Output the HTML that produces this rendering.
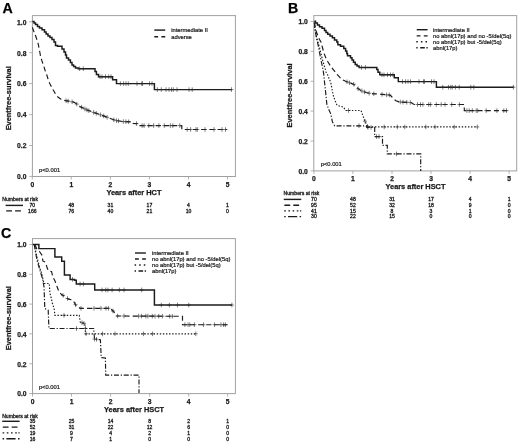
<!DOCTYPE html>
<html><head><meta charset="utf-8"><title>Eventfree survival</title>
<style>
html,body{margin:0;padding:0;background:#fff;}
svg{display:block;}
text{font-family:"Liberation Sans",sans-serif;fill:#1a1a1a;}
.tk{font-size:6.7px;font-weight:bold;stroke:#1a1a1a;stroke-width:0.25px;}
.ax{font-size:7.4px;font-weight:bold;stroke:#1a1a1a;stroke-width:0.25px;}
.pv{font-size:5.8px;stroke:#1a1a1a;stroke-width:0.2px;}
.pl{font-size:14.2px;font-weight:bold;fill:#000;stroke:#000;stroke-width:0.25px;}
.lg{font-size:5.8px;stroke:#1a1a1a;stroke-width:0.22px;}
.rk{font-size:5.1px;stroke:#1a1a1a;stroke-width:0.3px;}
</style></head>
<body>
<svg width="520" height="445" viewBox="0 0 520 445">
<defs><filter id="bl" x="0" y="0" width="100%" height="100%" filterUnits="userSpaceOnUse"><feGaussianBlur stdDeviation="0.35"/></filter></defs>
<rect width="520" height="445" fill="#fff"/>
<g filter="url(#bl)">
<rect x="32.4" y="15.6" width="203.0" height="160.9" fill="none" stroke="#a0a0a0" stroke-width="1"/>
<path d="M29.2,176.4H32.4" stroke="#a0a0a0" stroke-width="0.8"/>
<text x="26.4" y="179.2" text-anchor="end" class="tk">0.0</text>
<path d="M29.2,145.5H32.4" stroke="#a0a0a0" stroke-width="0.8"/>
<text x="26.4" y="148.3" text-anchor="end" class="tk">0.2</text>
<path d="M29.2,114.6H32.4" stroke="#a0a0a0" stroke-width="0.8"/>
<text x="26.4" y="117.4" text-anchor="end" class="tk">0.4</text>
<path d="M29.2,83.6H32.4" stroke="#a0a0a0" stroke-width="0.8"/>
<text x="26.4" y="86.4" text-anchor="end" class="tk">0.6</text>
<path d="M29.2,52.7H32.4" stroke="#a0a0a0" stroke-width="0.8"/>
<text x="26.4" y="55.5" text-anchor="end" class="tk">0.8</text>
<path d="M29.2,21.8H32.4" stroke="#a0a0a0" stroke-width="0.8"/>
<text x="26.4" y="24.6" text-anchor="end" class="tk">1.0</text>
<path d="M32.3,176.5V179.5" stroke="#a0a0a0" stroke-width="0.8"/>
<text x="32.3" y="186.9" text-anchor="middle" class="tk">0</text>
<path d="M71.3,176.5V179.5" stroke="#a0a0a0" stroke-width="0.8"/>
<text x="71.3" y="186.9" text-anchor="middle" class="tk">1</text>
<path d="M110.4,176.5V179.5" stroke="#a0a0a0" stroke-width="0.8"/>
<text x="110.4" y="186.9" text-anchor="middle" class="tk">2</text>
<path d="M149.4,176.5V179.5" stroke="#a0a0a0" stroke-width="0.8"/>
<text x="149.4" y="186.9" text-anchor="middle" class="tk">3</text>
<path d="M188.5,176.5V179.5" stroke="#a0a0a0" stroke-width="0.8"/>
<text x="188.5" y="186.9" text-anchor="middle" class="tk">4</text>
<path d="M227.5,176.5V179.5" stroke="#a0a0a0" stroke-width="0.8"/>
<text x="227.5" y="186.9" text-anchor="middle" class="tk">5</text>
<text x="133.9" y="194.7" text-anchor="middle" class="ax">Years after HCT</text>
<text transform="translate(10.8,98.3) rotate(-90)" text-anchor="middle" class="ax">Eventfree-survival</text>
<text x="39.0" y="171.5" class="pv">p&lt;0.001</text>
<text x="2.4" y="13.4" class="pl">A</text>
<path d="M32.4,21.5 L34.0,21.5 L34.0,23.0 L35.5,23.0 L35.5,24.5 L37.5,24.5 L37.5,26.5 L39.5,26.5 L39.5,28.0 L42.0,28.0 L42.0,29.7 L44.5,29.7 L44.5,32.0 L46.1,32.0 L46.1,34.0 L48.0,34.0 L48.0,36.0 L50.0,36.0 L50.0,37.5 L52.0,37.5 L52.0,39.5 L54.0,39.5 L54.0,42.0 L55.5,42.0 L55.5,45.4 L57.5,45.4 L57.5,46.2 L62.0,46.2 L62.0,49.0 L64.0,49.0 L64.0,52.0 L65.5,52.0 L65.5,55.0 L66.5,55.0 L66.5,58.0 L68.5,58.0 L68.5,60.0 L70.4,60.0 L70.4,62.5 L72.0,62.5 L72.0,65.0 L73.6,65.0 L73.6,66.5 L75.5,66.5 L75.5,68.0 L78.3,68.0 L78.3,68.7 L95.0,68.7 L95.0,71.5 L96.4,71.5 L96.4,74.5 L98.5,74.5 L98.5,76.7 L112.6,76.7 L112.6,79.7 L116.5,79.7 L116.5,83.6 L154.4,83.6 L154.4,89.6 L231.5,89.6" fill="none" stroke="#1a1a1a" stroke-width="1.45" stroke-linejoin="miter"/>
<path d="M79.6,66.4V71.0M77.6,68.7H81.6M83.3,66.4V71.0M81.3,68.7H85.3" stroke="#2a2a2a" stroke-width="0.6" fill="none"/>
<path d="M100.0,74.4V79.0M98.0,76.7H102.0M102.0,74.4V79.0M100.0,76.7H104.0M105.5,74.4V79.0M103.5,76.7H107.5M108.7,74.4V79.0M106.7,76.7H110.7M111.0,74.4V79.0M109.0,76.7H113.0" stroke="#2a2a2a" stroke-width="0.6" fill="none"/>
<path d="M120.4,81.3V85.9M118.4,83.6H122.4M123.6,81.3V85.9M121.6,83.6H125.6M126.0,81.3V85.9M124.0,83.6H128.0M128.3,81.3V85.9M126.3,83.6H130.3M137.0,81.3V85.9M135.0,83.6H139.0M141.7,81.3V85.9M139.7,83.6H143.7M142.5,81.3V85.9M140.5,83.6H144.5M149.5,81.3V85.9M147.5,83.6H151.5M152.0,81.3V85.9M150.0,83.6H154.0" stroke="#2a2a2a" stroke-width="0.6" fill="none"/>
<path d="M157.4,87.3V91.9M155.4,89.6H159.4M161.3,87.3V91.9M159.3,89.6H163.3M166.0,87.3V91.9M164.0,89.6H168.0M169.0,87.3V91.9M167.0,89.6H171.0M171.5,87.3V91.9M169.5,89.6H173.5M173.3,87.3V91.9M171.3,89.6H175.3M177.0,87.3V91.9M175.0,89.6H179.0" stroke="#2a2a2a" stroke-width="0.6" fill="none"/>
<path d="M189.0,87.3V91.9M187.0,89.6H191.0M192.2,87.3V91.9M190.2,89.6H194.2M231.5,87.3V91.9M229.5,89.6H233.5" stroke="#2a2a2a" stroke-width="0.6" fill="none"/>
<path d="M32.4,27.4 L33.3,30.0 L34.2,32.5 L35.0,34.4 L36.0,37.0 L37.0,40.0 L38.2,43.9 L39.0,48.0 L39.8,52.0 L40.6,56.5 L42.0,61.0 L43.7,65.9 L45.3,71.0 L46.9,75.3 L48.4,80.4 L50.0,84.0 L53.2,89.9 L55.5,94.0 L57.9,97.0 L61.0,99.2 L65.7,100.6 L73.6,102.1 L76.0,103.5 L79.9,106.4 L84.0,108.5 L87.7,110.3 L95.6,113.1 L100.0,114.6 L107.9,117.6 L115.7,120.5 L123.0,121.6 L132.7,121.9 L133.2,123.5 L138.5,123.6 L139.2,125.6 L181.8,125.6 L181.8,129.5 L227.0,129.5" fill="none" stroke="#1a1a1a" stroke-width="1.15" stroke-dasharray="5 3.2" stroke-linejoin="miter"/>
<path d="M66.1,98.4V103.0M64.1,100.7H68.1M68.1,98.8V103.4M66.1,101.1H70.1M72.1,99.5V104.1M70.1,101.8H74.1M76.8,101.8V106.4M74.8,104.1H78.8M81.5,104.9V109.5M79.5,107.2H83.5M84.9,106.6V111.2M82.9,108.9H86.9M86.9,107.6V112.2M84.9,109.9H88.9M88.9,108.4V113.0M86.9,110.7H90.9M93.6,110.1V114.7M91.6,112.4H95.6M96.3,111.0V115.6M94.3,113.3H98.3M100.4,112.5V117.1M98.4,114.8H102.4M103.7,113.7V118.3M101.7,116.0H105.7M107.1,115.0V119.6M105.1,117.3H109.1M113.8,117.5V122.1M111.8,119.8H115.8M116.5,118.3V122.9M114.5,120.6H118.5M118.5,118.6V123.2M116.5,120.9H120.5M123.3,119.3V123.9M121.3,121.6H125.3M125.9,119.4V124.0M123.9,121.7H127.9M128.6,119.5V124.1M126.6,121.8H130.6" stroke="#2a2a2a" stroke-width="0.6" fill="none"/>
<path d="M136.5,121.3V125.9M134.5,123.6H138.5M142.1,123.3V127.9M140.1,125.6H144.1M144.1,123.3V127.9M142.1,125.6H146.1M148.8,123.3V127.9M146.8,125.6H150.8M153.6,123.3V127.9M151.6,125.6H155.6M158.9,123.3V127.9M156.9,125.6H160.9M164.3,123.3V127.9M162.3,125.6H166.3M170.4,123.3V127.9M168.4,125.6H172.4M172.8,123.3V127.9M170.8,125.6H174.8M179.8,123.3V127.9M177.8,125.6H181.8" stroke="#2a2a2a" stroke-width="0.6" fill="none"/>
<path d="M187.2,127.2V131.8M185.2,129.5H189.2M190.6,127.2V131.8M188.6,129.5H192.6M196.0,127.2V131.8M194.0,129.5H198.0M197.3,127.2V131.8M195.3,129.5H199.3M205.0,127.2V131.8M203.0,129.5H207.0M214.0,127.2V131.8M212.0,129.5H216.0M222.0,127.2V131.8M220.0,129.5H224.0M225.5,127.2V131.8M223.5,129.5H227.5" stroke="#2a2a2a" stroke-width="0.6" fill="none"/>
<path d="M154.3,30.1H165.2" stroke="#1a1a1a" stroke-width="1.4" fill="none"/>
<text x="171.2" y="32.1" class="lg">intermediate II</text>
<path d="M154.3,36.7H158.1M161.4,36.7H165.2" stroke="#1a1a1a" stroke-width="1.4" fill="none"/>
<text x="171.2" y="38.7" class="lg">adverse</text>
<text x="2.3" y="201.0" class="rk">Numbers at risk</text>
<path d="M5.6,205.4H23.0" stroke="#1a1a1a" stroke-width="1.4" fill="none"/>
<text x="32.3" y="207.2" text-anchor="middle" class="rk">70</text>
<text x="71.3" y="207.2" text-anchor="middle" class="rk">48</text>
<text x="110.4" y="207.2" text-anchor="middle" class="rk">31</text>
<text x="149.4" y="207.2" text-anchor="middle" class="rk">17</text>
<text x="188.5" y="207.2" text-anchor="middle" class="rk">4</text>
<text x="227.5" y="207.2" text-anchor="middle" class="rk">1</text>
<path d="M6.2,210.9H12.0M15.1,210.9H20.9" stroke="#1a1a1a" stroke-width="1.4" fill="none"/>
<text x="32.3" y="212.7" text-anchor="middle" class="rk">166</text>
<text x="71.3" y="212.7" text-anchor="middle" class="rk">76</text>
<text x="110.4" y="212.7" text-anchor="middle" class="rk">40</text>
<text x="149.4" y="212.7" text-anchor="middle" class="rk">21</text>
<text x="188.5" y="212.7" text-anchor="middle" class="rk">10</text>
<text x="227.5" y="212.7" text-anchor="middle" class="rk">0</text>
<rect x="313.8" y="15.6" width="202.90000000000003" height="155.3" fill="none" stroke="#a0a0a0" stroke-width="1"/>
<path d="M310.6,170.9H313.8" stroke="#a0a0a0" stroke-width="0.8"/>
<text x="307.8" y="173.7" text-anchor="end" class="tk">0.0</text>
<path d="M310.6,141.0H313.8" stroke="#a0a0a0" stroke-width="0.8"/>
<text x="307.8" y="143.8" text-anchor="end" class="tk">0.2</text>
<path d="M310.6,111.1H313.8" stroke="#a0a0a0" stroke-width="0.8"/>
<text x="307.8" y="113.9" text-anchor="end" class="tk">0.4</text>
<path d="M310.6,81.3H313.8" stroke="#a0a0a0" stroke-width="0.8"/>
<text x="307.8" y="84.1" text-anchor="end" class="tk">0.6</text>
<path d="M310.6,51.4H313.8" stroke="#a0a0a0" stroke-width="0.8"/>
<text x="307.8" y="54.2" text-anchor="end" class="tk">0.8</text>
<path d="M310.6,21.5H313.8" stroke="#a0a0a0" stroke-width="0.8"/>
<text x="307.8" y="24.3" text-anchor="end" class="tk">1.0</text>
<path d="M313.9,170.9V173.9" stroke="#a0a0a0" stroke-width="0.8"/>
<text x="313.9" y="181.3" text-anchor="middle" class="tk">0</text>
<path d="M352.9,170.9V173.9" stroke="#a0a0a0" stroke-width="0.8"/>
<text x="352.9" y="181.3" text-anchor="middle" class="tk">1</text>
<path d="M392.0,170.9V173.9" stroke="#a0a0a0" stroke-width="0.8"/>
<text x="392.0" y="181.3" text-anchor="middle" class="tk">2</text>
<path d="M431.0,170.9V173.9" stroke="#a0a0a0" stroke-width="0.8"/>
<text x="431.0" y="181.3" text-anchor="middle" class="tk">3</text>
<path d="M470.1,170.9V173.9" stroke="#a0a0a0" stroke-width="0.8"/>
<text x="470.1" y="181.3" text-anchor="middle" class="tk">4</text>
<path d="M509.1,170.9V173.9" stroke="#a0a0a0" stroke-width="0.8"/>
<text x="509.1" y="181.3" text-anchor="middle" class="tk">5</text>
<text x="415.5" y="189.1" text-anchor="middle" class="ax">Years after HSCT</text>
<text transform="translate(292.3,95.4) rotate(-90)" text-anchor="middle" class="ax">Eventfree-survival</text>
<text x="320.7" y="166.3" class="pv">p&lt;0.001</text>
<text x="288.0" y="13.1" class="pl">B</text>
<path d="M314.3,21.3 L315.5,21.3 L315.5,23.0 L317.4,23.0 L317.4,25.0 L319.5,25.0 L319.5,26.8 L322.0,26.8 L322.0,28.2 L324.5,28.2 L324.5,30.5 L326.0,30.5 L326.0,32.5 L327.7,32.5 L327.7,34.3 L330.0,34.3 L330.0,36.0 L332.4,36.0 L332.4,37.8 L334.5,37.8 L334.5,39.9 L336.8,39.9 L336.8,42.0 L337.9,42.0 L337.9,44.7 L340.5,44.7 L340.5,46.2 L343.8,46.2 L343.8,48.5 L345.6,48.5 L345.6,51.0 L346.8,51.0 L346.8,53.5 L347.5,53.5 L347.5,55.7 L350.5,55.7 L350.5,57.8 L352.0,57.8 L352.0,60.0 L353.5,60.0 L353.5,62.3 L355.2,62.3 L355.2,64.5 L357.0,64.5 L357.0,66.0 L359.1,66.0 L359.1,67.5 L376.8,67.5 L376.8,69.5 L378.0,69.5 L378.0,72.3 L379.8,72.3 L379.8,74.8 L394.3,74.8 L394.3,77.8 L398.3,77.8 L398.3,81.6 L436.4,81.6 L436.4,87.2 L513.4,87.2" fill="none" stroke="#1a1a1a" stroke-width="1.45" stroke-linejoin="miter"/>
<path d="M361.5,65.2V69.8M359.5,67.5H363.5M365.4,65.2V69.8M363.4,67.5H367.4" stroke="#2a2a2a" stroke-width="0.6" fill="none"/>
<path d="M382.0,72.5V77.1M380.0,74.8H384.0M384.0,72.5V77.1M382.0,74.8H386.0M387.5,72.5V77.1M385.5,74.8H389.5M390.5,72.5V77.1M388.5,74.8H392.5M393.0,72.5V77.1M391.0,74.8H395.0" stroke="#2a2a2a" stroke-width="0.6" fill="none"/>
<path d="M402.5,79.3V83.9M400.5,81.6H404.5M405.5,79.3V83.9M403.5,81.6H407.5M408.0,79.3V83.9M406.0,81.6H410.0M410.5,79.3V83.9M408.5,81.6H412.5M419.0,79.3V83.9M417.0,81.6H421.0M423.5,79.3V83.9M421.5,81.6H425.5M424.5,79.3V83.9M422.5,81.6H426.5M431.5,79.3V83.9M429.5,81.6H433.5M434.0,79.3V83.9M432.0,81.6H436.0" stroke="#2a2a2a" stroke-width="0.6" fill="none"/>
<path d="M442.8,84.9V89.5M440.8,87.2H444.8M448.5,84.9V89.5M446.5,87.2H450.5M450.8,84.9V89.5M448.8,87.2H452.8M452.3,84.9V89.5M450.3,87.2H454.3M455.4,84.9V89.5M453.4,87.2H457.4M459.2,84.9V89.5M457.2,87.2H461.2" stroke="#2a2a2a" stroke-width="0.6" fill="none"/>
<path d="M470.8,84.9V89.5M468.8,87.2H472.8M473.8,84.9V89.5M471.8,87.2H475.8M513.4,84.9V89.5M511.4,87.2H515.4" stroke="#2a2a2a" stroke-width="0.6" fill="none"/>
<path d="M314.3,22.5 L315.0,26.0 L315.6,29.5 L316.8,33.0 L318.1,36.6 L319.5,39.5 L321.0,42.0 L322.2,46.5 L323.5,51.4 L324.7,55.0 L325.9,58.1 L328.0,62.0 L330.2,65.5 L332.5,68.7 L334.9,71.6 L337.0,74.5 L339.4,76.9 L342.0,79.5 L345.7,81.3 L350.0,83.0 L353.6,84.2 L356.0,86.5 L358.3,88.9 L362.2,91.2 L366.0,92.5 L370.9,93.6 L381.9,94.4 L390.0,95.1 L391.5,96.5 L393.5,98.8 L396.0,100.8 L399.4,102.0 L411.0,102.5 L412.5,103.5 L414.2,104.5 L464.3,104.5 L464.3,110.6 L507.6,110.6" fill="none" stroke="#1a1a1a" stroke-width="1.15" stroke-dasharray="5 3.2" stroke-linejoin="miter"/>
<path d="M347.0,79.5V84.1M345.0,81.8H349.0M349.5,80.5V85.1M347.5,82.8H351.5M353.7,82.0V86.6M351.7,84.3H355.7" stroke="#2a2a2a" stroke-width="0.6" fill="none"/>
<path d="M358.2,86.5V91.1M356.2,88.8H360.2M361.9,88.7V93.3M359.9,91.0H363.9M364.6,89.7V94.3M362.6,92.0H366.6M369.2,90.9V95.5M367.2,93.2H371.2M373.8,91.5V96.1M371.8,93.8H375.8M382.0,92.1V96.7M380.0,94.4H384.0M386.6,92.5V97.1M384.6,94.8H388.6M389.3,92.7V97.3M387.3,95.0H391.3" stroke="#2a2a2a" stroke-width="0.6" fill="none"/>
<path d="M400.3,99.7V104.3M398.3,102.0H402.3M403.0,99.9V104.5M401.0,102.2H405.0M406.7,100.0V104.6M404.7,102.3H408.7M410.3,100.2V104.8M408.3,102.5H412.3" stroke="#2a2a2a" stroke-width="0.6" fill="none"/>
<path d="M417.5,102.2V106.8M415.5,104.5H419.5M420.5,102.2V106.8M418.5,104.5H422.5M422.9,102.2V106.8M420.9,104.5H424.9M428.7,102.2V106.8M426.7,104.5H430.7M430.6,102.2V106.8M428.6,104.5H432.6M436.3,102.2V106.8M434.3,104.5H438.3M441.2,102.2V106.8M439.2,104.5H443.2M445.0,102.2V106.8M443.0,104.5H447.0M451.7,102.2V106.8M449.7,104.5H453.7M459.4,102.2V106.8M457.4,104.5H461.4" stroke="#2a2a2a" stroke-width="0.6" fill="none"/>
<path d="M466.9,108.3V112.9M464.9,110.6H468.9M469.2,108.3V112.9M467.2,110.6H471.2M472.3,108.3V112.9M470.3,110.6H474.3M476.2,108.3V112.9M474.2,110.6H478.2M477.7,108.3V112.9M475.7,110.6H479.7M486.2,108.3V112.9M484.2,110.6H488.2M496.9,108.3V112.9M494.9,110.6H498.9M503.8,108.3V112.9M501.8,110.6H505.8M506.5,108.3V112.9M504.5,110.6H508.5" stroke="#2a2a2a" stroke-width="0.6" fill="none"/>
<path d="M314.3,26.6 L315.4,32.0 L316.6,37.6 L318.2,43.0 L319.8,48.6 L321.3,55.0 L322.9,61.2 L324.5,66.5 L326.1,72.2 L327.7,75.0 L328.4,76.9 L330.8,82.6 L332.0,89.0 L333.2,95.2 L335.0,100.5 L337.1,105.4 L343.4,107.0 L345.7,110.5 L361.0,110.5 L364.6,120.3 L367.7,126.9 L477.3,126.9" fill="none" stroke="#1a1a1a" stroke-width="1.15" stroke-dasharray="1.4 1.7" stroke-linejoin="miter"/>
<path d="M348.5,108.2V112.8M346.5,110.5H350.5" stroke="#2a2a2a" stroke-width="0.6" fill="none"/>
<path d="M365.0,118.9V123.5M363.0,121.2H367.0M367.5,124.2V128.8M365.5,126.5H369.5" stroke="#2a2a2a" stroke-width="0.6" fill="none"/>
<path d="M384.2,124.6V129.2M382.2,126.9H386.2M397.3,124.6V129.2M395.3,126.9H399.3M404.8,124.6V129.2M402.8,126.9H406.8M425.8,124.6V129.2M423.8,126.9H427.8M435.0,124.6V129.2M433.0,126.9H437.0M454.2,124.6V129.2M452.2,126.9H456.2M477.3,124.6V129.2M475.3,126.9H479.3" stroke="#2a2a2a" stroke-width="0.6" fill="none"/>
<path d="M314.3,22.5 L315.1,28.0 L315.9,34.4 L317.0,40.0 L318.2,45.4 L319.4,52.0 L320.6,58.0 L321.7,63.5 L322.9,69.0 L323.7,74.0 L324.5,82.0 L325.3,88.9 L326.1,97.0 L326.9,104.6 L328.8,109.5 L330.8,114.0 L331.6,118.0 L332.4,121.9 L334.7,125.8 L366.8,125.8 L366.8,127.4 L374.7,127.4 L374.7,136.6 L382.5,136.6 L382.5,145.4 L387.3,145.4 L387.3,153.9 L420.7,153.9 L420.7,170.9" fill="none" stroke="#1a1a1a" stroke-width="1.15" stroke-dasharray="5 1.8 1.2 1.8" stroke-linejoin="miter"/>
<path d="M359.0,123.5V128.1M357.0,125.8H361.0M368.0,125.1V129.7M366.0,127.4H370.0M371.0,125.1V129.7M369.0,127.4H373.0" stroke="#2a2a2a" stroke-width="0.6" fill="none"/>
<path d="M376.5,134.3V138.9M374.5,136.6H378.5M379.0,134.3V138.9M377.0,136.6H381.0" stroke="#2a2a2a" stroke-width="0.6" fill="none"/>
<path d="M396.5,151.6V156.2M394.5,153.9H398.5" stroke="#2a2a2a" stroke-width="0.6" fill="none"/>
<path d="M416.7,29.7H427.6" stroke="#1a1a1a" stroke-width="1.4" fill="none"/>
<text x="433" y="31.7" class="lg">intermediate II</text>
<path d="M416.7,35.9H420.5M423.8,35.9H427.6" stroke="#1a1a1a" stroke-width="1.4" fill="none"/>
<text x="433" y="37.9" class="lg">no abnl(17p) and no -5/del(5q)</text>
<path d="M416.3,41.8H417.8M420.9,41.8H422.4M425.5,41.8H427.0" stroke="#1a1a1a" stroke-width="1.4" fill="none"/>
<text x="433" y="43.8" class="lg">no abnl(17p) but -5/del(5q)</text>
<path d="M416.3,47.8H417.7M420.2,47.8H424.8M426.4,47.8H427.7" stroke="#1a1a1a" stroke-width="1.4" fill="none"/>
<text x="433" y="49.8" class="lg">abnl(17p)</text>
<text x="283.6" y="195.2" class="rk">Numbers at risk</text>
<path d="M283.8,199.4H301.2" stroke="#1a1a1a" stroke-width="1.4" fill="none"/>
<text x="313.9" y="201.2" text-anchor="middle" class="rk">70</text>
<text x="352.9" y="201.2" text-anchor="middle" class="rk">48</text>
<text x="392.0" y="201.2" text-anchor="middle" class="rk">31</text>
<text x="431.0" y="201.2" text-anchor="middle" class="rk">17</text>
<text x="470.1" y="201.2" text-anchor="middle" class="rk">4</text>
<text x="509.1" y="201.2" text-anchor="middle" class="rk">1</text>
<path d="M284.4,205.2H290.2M293.3,205.2H299.1" stroke="#1a1a1a" stroke-width="1.4" fill="none"/>
<text x="313.9" y="207.0" text-anchor="middle" class="rk">95</text>
<text x="352.9" y="207.0" text-anchor="middle" class="rk">52</text>
<text x="392.0" y="207.0" text-anchor="middle" class="rk">32</text>
<text x="431.0" y="207.0" text-anchor="middle" class="rk">18</text>
<text x="470.1" y="207.0" text-anchor="middle" class="rk">9</text>
<text x="509.1" y="207.0" text-anchor="middle" class="rk">0</text>
<path d="M284.2,210.9H285.8M288.4,210.9H290.0M292.6,210.9H294.2M296.8,210.9H298.4M300.0,210.9H301.2" stroke="#1a1a1a" stroke-width="1.4" fill="none"/>
<text x="313.9" y="212.7" text-anchor="middle" class="rk">41</text>
<text x="352.9" y="212.7" text-anchor="middle" class="rk">15</text>
<text x="392.0" y="212.7" text-anchor="middle" class="rk">8</text>
<text x="431.0" y="212.7" text-anchor="middle" class="rk">3</text>
<text x="470.1" y="212.7" text-anchor="middle" class="rk">1</text>
<text x="509.1" y="212.7" text-anchor="middle" class="rk">0</text>
<path d="M284.2,216.6H285.7M288.0,216.6H297.2M299.6,216.6H301.1" stroke="#1a1a1a" stroke-width="1.4" fill="none"/>
<text x="313.9" y="218.4" text-anchor="middle" class="rk">30</text>
<text x="352.9" y="218.4" text-anchor="middle" class="rk">22</text>
<text x="392.0" y="218.4" text-anchor="middle" class="rk">15</text>
<text x="431.0" y="218.4" text-anchor="middle" class="rk">0</text>
<text x="470.1" y="218.4" text-anchor="middle" class="rk">0</text>
<text x="509.1" y="218.4" text-anchor="middle" class="rk">0</text>
<rect x="32.5" y="238.6" width="202.9" height="155.00000000000003" fill="none" stroke="#a0a0a0" stroke-width="1"/>
<path d="M29.3,393.5H32.5" stroke="#a0a0a0" stroke-width="0.8"/>
<text x="26.5" y="396.3" text-anchor="end" class="tk">0.0</text>
<path d="M29.3,363.7H32.5" stroke="#a0a0a0" stroke-width="0.8"/>
<text x="26.5" y="366.5" text-anchor="end" class="tk">0.2</text>
<path d="M29.3,333.9H32.5" stroke="#a0a0a0" stroke-width="0.8"/>
<text x="26.5" y="336.7" text-anchor="end" class="tk">0.4</text>
<path d="M29.3,304.1H32.5" stroke="#a0a0a0" stroke-width="0.8"/>
<text x="26.5" y="306.9" text-anchor="end" class="tk">0.6</text>
<path d="M29.3,274.3H32.5" stroke="#a0a0a0" stroke-width="0.8"/>
<text x="26.5" y="277.1" text-anchor="end" class="tk">0.8</text>
<path d="M29.3,244.5H32.5" stroke="#a0a0a0" stroke-width="0.8"/>
<text x="26.5" y="247.3" text-anchor="end" class="tk">1.0</text>
<path d="M32.5,393.6V396.6" stroke="#a0a0a0" stroke-width="0.8"/>
<text x="32.5" y="404.0" text-anchor="middle" class="tk">0</text>
<path d="M71.5,393.6V396.6" stroke="#a0a0a0" stroke-width="0.8"/>
<text x="71.5" y="404.0" text-anchor="middle" class="tk">1</text>
<path d="M110.6,393.6V396.6" stroke="#a0a0a0" stroke-width="0.8"/>
<text x="110.6" y="404.0" text-anchor="middle" class="tk">2</text>
<path d="M149.6,393.6V396.6" stroke="#a0a0a0" stroke-width="0.8"/>
<text x="149.6" y="404.0" text-anchor="middle" class="tk">3</text>
<path d="M188.7,393.6V396.6" stroke="#a0a0a0" stroke-width="0.8"/>
<text x="188.7" y="404.0" text-anchor="middle" class="tk">4</text>
<path d="M227.7,393.6V396.6" stroke="#a0a0a0" stroke-width="0.8"/>
<text x="227.7" y="404.0" text-anchor="middle" class="tk">5</text>
<text x="134.1" y="411.8" text-anchor="middle" class="ax">Years after HSCT</text>
<text transform="translate(10.8,318.2) rotate(-90)" text-anchor="middle" class="ax">Eventfree-survival</text>
<text x="38.8" y="389.0" class="pv">p&lt;0.001</text>
<text x="0.9" y="238.2" class="pl">C</text>
<path d="M32.7,244.4 L38.9,244.4 L38.9,248.6 L54.9,248.6 L54.9,257.0 L61.7,257.0 L61.7,261.3 L64.4,261.3 L64.4,274.9 L70.1,274.9 L70.1,279.4 L74.5,279.4 L74.5,280.3 L76.3,280.3 L76.3,284.0 L94.7,284.0 L94.7,289.9 L154.4,289.9 L154.4,305.0 L231.9,305.0" fill="none" stroke="#1a1a1a" stroke-width="1.45" stroke-linejoin="miter"/>
<path d="M72.5,277.1V281.7M70.5,279.4H74.5" stroke="#2a2a2a" stroke-width="0.6" fill="none"/>
<path d="M80.1,281.7V286.3M78.1,284.0H82.1M83.4,281.7V286.3M81.4,284.0H85.4" stroke="#2a2a2a" stroke-width="0.6" fill="none"/>
<path d="M102.0,287.6V292.2M100.0,289.9H104.0M105.7,287.6V292.2M103.7,289.9H107.7M107.9,287.6V292.2M105.9,289.9H109.9M112.1,287.6V292.2M110.1,289.9H114.1M119.4,287.6V292.2M117.4,289.9H121.4M124.0,287.6V292.2M122.0,289.9H126.0M141.7,287.6V292.2M139.7,289.9H143.7" stroke="#2a2a2a" stroke-width="0.6" fill="none"/>
<path d="M161.3,302.7V307.3M159.3,305.0H163.3M169.4,302.7V307.3M167.4,305.0H171.4M177.5,302.7V307.3M175.5,305.0H179.5M188.8,302.7V307.3M186.8,305.0H190.8M231.9,302.7V307.3M229.9,305.0H233.9" stroke="#2a2a2a" stroke-width="0.6" fill="none"/>
<path d="M34.7,244.6 L36.8,248.8 L39.5,251.5 L42.2,255.5 L42.8,260.9 L45.5,262.3 L46.9,267.0 L48.2,270.5 L51.6,271.7 L52.9,277.1 L55.0,281.1 L57.0,286.5 L59.0,291.9 L61.7,294.6 L64.4,296.3 L68.4,299.1 L72.6,300.0 L74.3,302.5 L76.0,305.5 L80.2,308.3 L110.5,308.3 L112.5,310.5 L113.8,311.9 L117.1,316.0 L182.5,316.3 L182.5,324.7 L227.5,324.7" fill="none" stroke="#1a1a1a" stroke-width="1.15" stroke-dasharray="5 3.2" stroke-linejoin="miter"/>
<path d="M63.0,293.1V297.7M61.0,295.4H65.0M67.5,296.2V300.8M65.5,298.5H69.5" stroke="#2a2a2a" stroke-width="0.6" fill="none"/>
<path d="M75.5,302.3V306.9M73.5,304.6H77.5" stroke="#2a2a2a" stroke-width="0.6" fill="none"/>
<path d="M81.0,306.0V310.6M79.0,308.3H83.0M94.0,306.0V310.6M92.0,308.3H96.0M101.0,306.0V310.6M99.0,308.3H103.0M106.0,306.0V310.6M104.0,308.3H108.0M108.5,306.0V310.6M106.5,308.3H110.5" stroke="#2a2a2a" stroke-width="0.6" fill="none"/>
<path d="M113.0,308.7V313.3M111.0,311.0H115.0M117.6,313.7V318.3M115.6,316.0H119.6" stroke="#2a2a2a" stroke-width="0.6" fill="none"/>
<path d="M124.0,313.7V318.3M122.0,316.0H126.0M138.6,313.8V318.4M136.6,316.1H140.6M141.4,313.8V318.4M139.4,316.1H143.4M145.9,313.8V318.4M143.9,316.1H147.9M147.9,313.8V318.4M145.9,316.1H149.9M152.3,313.9V318.5M150.3,316.2H154.3M155.0,313.9V318.5M153.0,316.2H157.0M158.7,313.9V318.5M156.7,316.2H160.7M162.4,313.9V318.5M160.4,316.2H164.4M169.7,313.9V318.5M167.7,316.2H171.7M172.4,314.0V318.6M170.4,316.3H174.4" stroke="#2a2a2a" stroke-width="0.6" fill="none"/>
<path d="M184.9,322.4V327.0M182.9,324.7H186.9M188.0,322.4V327.0M186.0,324.7H190.0M189.8,322.4V327.0M187.8,324.7H191.8M194.4,322.4V327.0M192.4,324.7H196.4M203.5,322.4V327.0M201.5,324.7H205.5M214.5,322.4V327.0M212.5,324.7H216.5M220.9,322.4V327.0M218.9,324.7H222.9M223.6,322.4V327.0M221.6,324.7H225.6M225.4,322.4V327.0M223.4,324.7H227.4" stroke="#2a2a2a" stroke-width="0.6" fill="none"/>
<path d="M34.5,244.4 L35.4,249.5 L36.4,254.5 L37.6,259.5 L38.9,264.6 L40.2,269.0 L41.5,273.0 L42.7,278.0 L44.0,283.5 L49.3,283.5 L49.9,293.2 L51.2,298.0 L52.4,303.3 L54.1,308.5 L54.9,315.3 L79.3,315.3 L80.2,322.0 L84.8,323.7 L85.6,333.8 L195.8,333.8" fill="none" stroke="#1a1a1a" stroke-width="1.15" stroke-dasharray="1.4 1.7" stroke-linejoin="miter"/>
<path d="M64.0,313.0V317.6M62.0,315.3H66.0" stroke="#2a2a2a" stroke-width="0.6" fill="none"/>
<path d="M82.0,320.4V325.0M80.0,322.7H84.0M84.0,321.1V325.7M82.0,323.4H86.0" stroke="#2a2a2a" stroke-width="0.6" fill="none"/>
<path d="M86.0,331.5V336.1M84.0,333.8H88.0M102.5,331.5V336.1M100.5,333.8H104.5M115.0,331.5V336.1M113.0,333.8H117.0M143.5,331.5V336.1M141.5,333.8H145.5M152.5,331.5V336.1M150.5,333.8H154.5M195.8,331.5V336.1M193.8,333.8H197.8" stroke="#2a2a2a" stroke-width="0.6" fill="none"/>
<path d="M34.2,244.4 L35.0,249.0 L35.6,252.8 L37.3,261.3 L39.8,269.7 L42.3,278.1 L44.0,286.5 L44.4,297.0 L44.8,308.5 L48.2,310.2 L48.6,320.0 L49.0,328.5 L93.7,328.5 L94.5,339.0 L100.4,339.8 L101.2,357.6 L105.4,358.0 L105.7,375.1 L139.0,375.1 L139.0,393.1" fill="none" stroke="#1a1a1a" stroke-width="1.15" stroke-dasharray="5 1.8 1.2 1.8" stroke-linejoin="miter"/>
<path d="M76.5,326.2V330.8M74.5,328.5H78.5M85.5,326.2V330.8M83.5,328.5H87.5" stroke="#2a2a2a" stroke-width="0.6" fill="none"/>
<path d="M94.5,336.7V341.3M92.5,339.0H96.5M96.5,337.0V341.6M94.5,339.3H98.5" stroke="#2a2a2a" stroke-width="0.6" fill="none"/>
<path d="M135.0,253H145.9" stroke="#1a1a1a" stroke-width="1.4" fill="none"/>
<text x="152" y="255.0" class="lg">intermediate II</text>
<path d="M135.0,259H138.8M142.1,259H145.9" stroke="#1a1a1a" stroke-width="1.4" fill="none"/>
<text x="152" y="261.0" class="lg">no abnl(17p) and no -5/del(5q)</text>
<path d="M134.6,265H136.1M139.2,265H140.7M143.8,265H145.3" stroke="#1a1a1a" stroke-width="1.4" fill="none"/>
<text x="152" y="267.0" class="lg">no abnl(17p) but -5/del(5q)</text>
<path d="M134.6,271H136.0M138.5,271H143.1M144.7,271H146.0" stroke="#1a1a1a" stroke-width="1.4" fill="none"/>
<text x="152" y="273.0" class="lg">abnl(17p)</text>
<text x="2.2" y="417.9" class="rk">Numbers at risk</text>
<path d="M2.2,421.3H19.6" stroke="#1a1a1a" stroke-width="1.4" fill="none"/>
<text x="32.5" y="423.1" text-anchor="middle" class="rk">35</text>
<text x="71.5" y="423.1" text-anchor="middle" class="rk">25</text>
<text x="110.6" y="423.1" text-anchor="middle" class="rk">14</text>
<text x="149.6" y="423.1" text-anchor="middle" class="rk">8</text>
<text x="188.7" y="423.1" text-anchor="middle" class="rk">2</text>
<text x="227.7" y="423.1" text-anchor="middle" class="rk">1</text>
<path d="M2.8,427.1H8.6M11.7,427.1H17.5" stroke="#1a1a1a" stroke-width="1.4" fill="none"/>
<text x="32.5" y="428.9" text-anchor="middle" class="rk">52</text>
<text x="71.5" y="428.9" text-anchor="middle" class="rk">31</text>
<text x="110.6" y="428.9" text-anchor="middle" class="rk">22</text>
<text x="149.6" y="428.9" text-anchor="middle" class="rk">12</text>
<text x="188.7" y="428.9" text-anchor="middle" class="rk">6</text>
<text x="227.7" y="428.9" text-anchor="middle" class="rk">0</text>
<path d="M2.6,432.9H4.2M6.8,432.9H8.4M11.0,432.9H12.6M15.2,432.9H16.8M18.4,432.9H19.6" stroke="#1a1a1a" stroke-width="1.4" fill="none"/>
<text x="32.5" y="434.7" text-anchor="middle" class="rk">19</text>
<text x="71.5" y="434.7" text-anchor="middle" class="rk">9</text>
<text x="110.6" y="434.7" text-anchor="middle" class="rk">4</text>
<text x="149.6" y="434.7" text-anchor="middle" class="rk">2</text>
<text x="188.7" y="434.7" text-anchor="middle" class="rk">1</text>
<text x="227.7" y="434.7" text-anchor="middle" class="rk">0</text>
<path d="M2.6,438.7H4.1M6.4,438.7H15.6M18.0,438.7H19.5" stroke="#1a1a1a" stroke-width="1.4" fill="none"/>
<text x="32.5" y="440.5" text-anchor="middle" class="rk">16</text>
<text x="71.5" y="440.5" text-anchor="middle" class="rk">7</text>
<text x="110.6" y="440.5" text-anchor="middle" class="rk">1</text>
<text x="149.6" y="440.5" text-anchor="middle" class="rk">0</text>
<text x="188.7" y="440.5" text-anchor="middle" class="rk">0</text>
<text x="227.7" y="440.5" text-anchor="middle" class="rk">0</text>
</g>
</svg>
</body></html>
